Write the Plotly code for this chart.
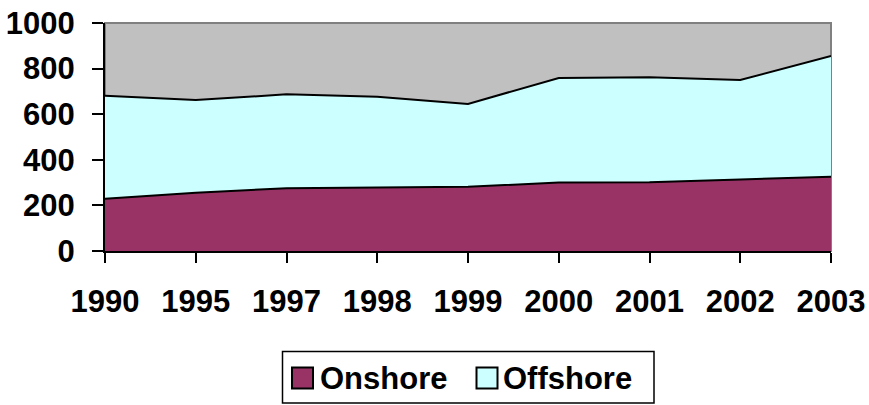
import plotly.graph_objects as go

years = ["1990", "1995", "1997", "1998", "1999", "2000", "2001", "2002", "2003"]
onshore = [229, 256, 275, 279, 282, 300, 301, 314, 326]
offshore = [452, 406, 412, 398, 363, 459, 461, 436, 529]
y_ticks = [0, 200, 400, 600, 800, 1000]
series_names = ["Onshore", "Offshore"]
series_colors = ["#993366", "#CCFFFF"]

FONT = "Liberation Sans, Arial, sans-serif"
W, H = 869, 405
ML, MR, MT, MB = 105, 38, 23, 154
PW, PH = W - ML - MR, H - MT - MB


def px_x(p):
    return (p - ML) / PW


def px_y(p):
    return (H - MB - p) / PH


fig = go.Figure()
for name, vals, col in zip(series_names, [onshore, offshore], series_colors):
    fig.add_trace(go.Scatter(
        x=years, y=vals, name=name, stackgroup="one", mode="lines",
        line=dict(color="black", width=2), fillcolor=col, showlegend=False,
    ))

shapes = [dict(type="rect", xref="paper", yref="paper", x0=0, x1=1, y0=0, y1=1,
               line=dict(color="#808080", width=2), layer="below")]
# legend box
shapes.append(dict(type="rect", xref="paper", yref="paper",
                   x0=px_x(282.5), x1=px_x(654), y0=px_y(403), y1=px_y(351.5),
                   line=dict(color="black", width=1.5), fillcolor="white"))
annotations = []
legend_sq_x = [292, 476.5]
legend_txt_x = [318, 501]
for name, col, sx, tx in zip(series_names, series_colors, legend_sq_x, legend_txt_x):
    shapes.append(dict(type="rect", xref="paper", yref="paper",
                       x0=px_x(sx), x1=px_x(sx + 21), y0=px_y(388.5), y1=px_y(367.5),
                       line=dict(color="black", width=2), fillcolor=col))
    annotations.append(dict(xref="paper", yref="paper", x=px_x(tx), y=px_y(378.5),
                            xanchor="left", yanchor="middle", showarrow=False, text=name,
                            font=dict(family=FONT, size=31, color="black", weight="bold")))

fig.update_layout(
    width=W, height=H,
    margin=dict(l=ML, r=MR, t=MT, b=MB),
    paper_bgcolor="white",
    plot_bgcolor="#C0C0C0",
    font=dict(family=FONT, size=31, color="black"),
    showlegend=False,
    xaxis=dict(
        type="category", range=[0, 8], showgrid=False, zeroline=False, automargin=False,
        showline=True, linecolor="black", linewidth=2,
        ticks="outside", ticklen=10, tickwidth=2, tickcolor="black",
        tickfont=dict(family=FONT, size=31, color="black", weight="bold"),
        ticklabelstandoff=12,
    ),
    yaxis=dict(
        range=[0, 1000], tickvals=y_ticks, showgrid=False, zeroline=False, automargin=False,
        showline=True, linecolor="black", linewidth=2,
        ticks="outside", ticklen=11, tickwidth=2, tickcolor="black",
        tickfont=dict(family=FONT, size=31, color="black", weight="bold"),
        ticklabelstandoff=11,
    ),
    shapes=shapes,
    annotations=annotations,
)

fig.write_html("out.html", config={"displayModeBar": False},
               post_script="document.body.style.margin='0';")
